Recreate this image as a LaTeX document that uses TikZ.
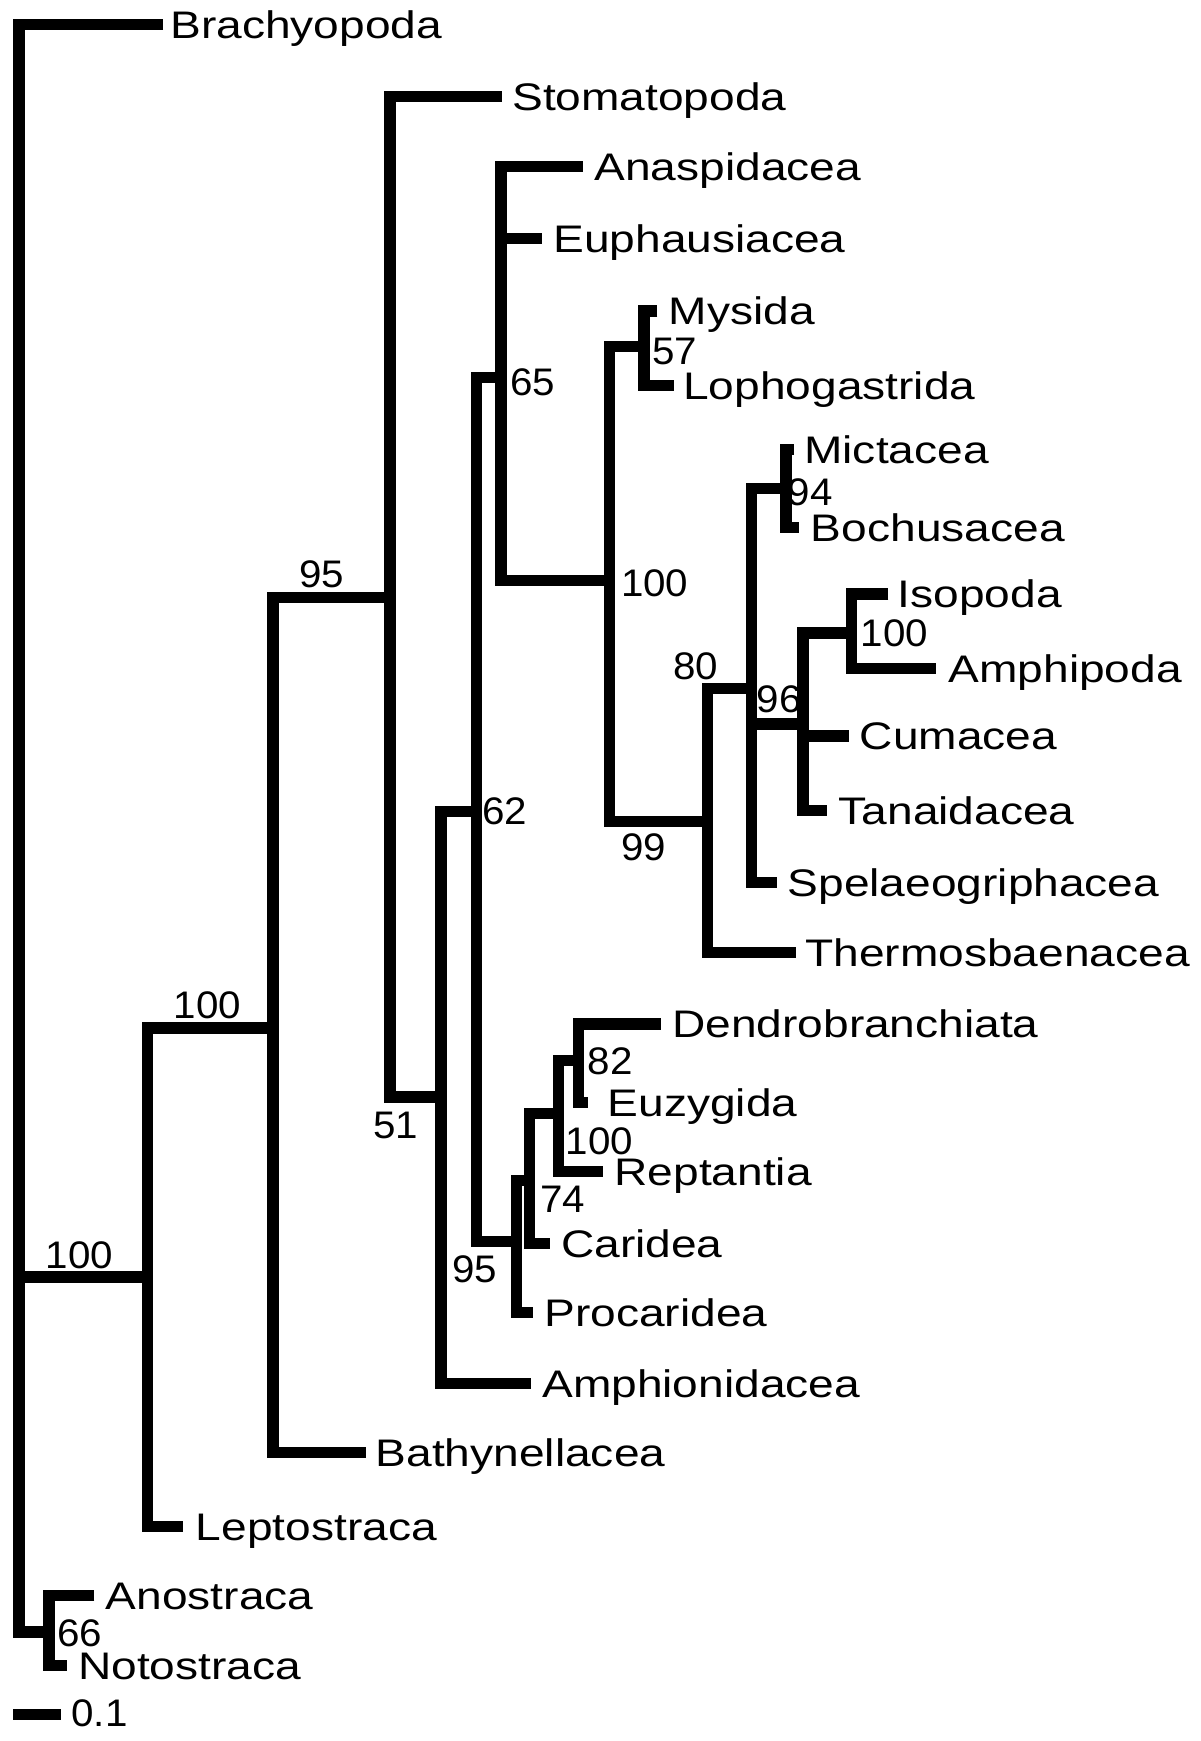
\documentclass[tikz,border=0pt]{standalone}
\usepackage{fontspec}
\setmainfont{Liberation Sans}
\newfontfamily\namefont[FakeStretch=1.2]{Liberation Sans}
\newfontfamily\numfont[FakeStretch=1.05]{Liberation Sans}
\begin{document}
\begin{tikzpicture}[x=0.5pt,y=-0.5pt,
  br/.style={line width=5.2pt, line join=miter, line cap=butt},
  leaf/.style={anchor=base west, inner sep=0pt, font=\namefont\fontsize{17.3pt}{17.3pt}\selectfont},
  boot/.style={anchor=base west, inner sep=0pt, font=\numfont\fontsize{17.3pt}{17.3pt}\selectfont}]
\useasboundingbox (0,0) rectangle (1081,1568);
% internal nodes
\coordinate (R0) at (17,1150);
\coordinate (B) at (133,1150);
\coordinate (C) at (246,926);
\coordinate (D) at (351,538);
\coordinate (E) at (397,988);
\coordinate (F) at (429,731);
\coordinate (G) at (451,340);
\coordinate (I) at (549,523);
\coordinate (J) at (580,312);
\coordinate (K) at (637,740);
\coordinate (L) at (677,620);
\coordinate (M) at (708,440);
\coordinate (N) at (723,652);
\coordinate (O) at (767,570);
\coordinate (H) at (465,1118);
\coordinate (P) at (477,1063);
\coordinate (Q) at (503,1003);
\coordinate (R) at (521,955);
\coordinate (S) at (44,1470);
% tips
\coordinate (tBrachy) at (147,22);
\coordinate (tStom) at (452,87);
\coordinate (tAnasp) at (525,150);
\coordinate (tEuph) at (488,215);
\coordinate (tMys) at (592,280);
\coordinate (tLoph) at (607,347);
\coordinate (tMict) at (715,405);
\coordinate (tBoch) at (720,475);
\coordinate (tIso) at (800,535);
\coordinate (tAmphip) at (843,602);
\coordinate (tCum) at (765,663);
\coordinate (tTan) at (745,730);
\coordinate (tSpel) at (700,795);
\coordinate (tTherm) at (717,858);
\coordinate (tDend) at (595,922);
\coordinate (tEuzy) at (530,993);
\coordinate (tRept) at (543,1055);
\coordinate (tCar) at (495,1120);
\coordinate (tProc) at (480,1182);
\coordinate (tAmphion) at (478,1246);
\coordinate (tBath) at (330,1308);
\coordinate (tLept) at (165,1375);
\coordinate (tAnos) at (85,1437);
\coordinate (tNoto) at (60,1500);
% branches
\draw[br] (tBrachy) -| (R0) |- (S);
\draw[br] (R0) -- (B);
\draw[br] (C) -| (B) |- (tLept);
\draw[br] (D) -| (C) |- (tBath);
\draw[br] (tStom) -| (D) |- (E);
\draw[br] (F) -| (E) |- (tAmphion);
\draw[br] (G) -| (F) |- (H);
\draw[br] (tAnasp) -| (G) |- (I);
\draw[br] (G |- tEuph) -- (tEuph);
\draw[br] (J) -| (I) |- (K);
\draw[br] (tMys) -| (J) |- (tLoph);
\draw[br] (L) -| (K) |- (tTherm);
\draw[br] (M) -| (L) |- (tSpel);
\draw[br] (L |- N) -- (N);
\draw[br] (tMict) -| (M) |- (tBoch);
\draw[br] (O) -| (N) |- (tTan);
\draw[br] (N |- tCum) -- (tCum);
\draw[br] (tIso) -| (O) |- (tAmphip);
\draw[br] (P) -| (H) |- (tProc);
\draw[br] (Q) -| (P) |- (tCar);
\draw[br] (R) -| (Q) |- (tRept);
\draw[br] (tDend) -| (R) |- (tEuzy);
\draw[br] (tAnos) -| (S) |- (tNoto);
% leaf labels
\node[leaf] (lBrachy) at (153,34.4) {Brachyopoda};
\node[leaf] (lStom) at (461,99.4) {Stomatopoda};
\node[leaf] (lAnasp) at (535,162.4) {Anaspidacea};
\node[leaf] (lEuph) at (498,227.4) {Euphausiacea};
\node[leaf] (lMys) at (602,292.4) {Mysida};
\node[leaf] (lLoph) at (615,359.4) {Lophogastrida};
\node[leaf] (lMict) at (724,417.4) {Mictacea};
\node[leaf] (lBoch) at (730,487.4) {Bochusacea};
\node[leaf] (lIso) at (808,547.4) {Isopoda};
\node[leaf] (lAmphip) at (854,614.4) {Amphipoda};
\node[leaf] (lCum) at (774,675.4) {Cumacea};
\node[leaf] (lTan) at (755,742.4) {Tanaidacea};
\node[leaf] (lSpel) at (709,807.4) {Spelaeogriphacea};
\node[leaf] (lTherm) at (725,870.4) {Thermosbaenacea};
\node[leaf] (lDend) at (605,934.4) {Dendrobranchiata};
\node[leaf] (lEuzy) at (547,1005.4) {Euzygida};
\node[leaf] (lRept) at (553,1067.4) {Reptantia};
\node[leaf] (lCar) at (505,1132.4) {Caridea};
\node[leaf] (lProc) at (490,1194.4) {Procaridea};
\node[leaf] (lAmphion) at (488,1258.4) {Amphionidacea};
\node[leaf] (lBath) at (338,1320.4) {Bathynellacea};
\node[leaf] (lLept) at (176,1387.4) {Leptostraca};
\node[leaf] (lAnos) at (95,1449.4) {Anostraca};
\node[leaf] (lNoto) at (70,1512.4) {Notostraca};
% support values
\node[boot] (bR0) at (41,1142) {100};
\node[boot] (bB) at (156,917) {100};
\node[boot] (bC) at (269,529) {95};
\node[boot] (bD) at (336,1025) {51};
\node[boot] (bE) at (434,743) {62};
\node[boot] (bG) at (459,356) {65};
\node[boot] (bI) at (559,537) {100};
\node[boot] (bJ) at (587,328) {57};
\node[boot] (bK) at (559,775) {99};
\node[boot] (bL80) at (606,612) {80};
\node[boot] (bM) at (709,455) {94};
\node[boot] (bL96) at (681,642) {96};
\node[boot] (bO) at (775,582) {100};
\node[boot] (bR) at (529,968) {82};
\node[boot] (bQ) at (509,1040) {100};
\node[boot] (bP) at (486,1092) {74};
\node[boot] (bH) at (407,1155) {95};
\node[boot] (bS) at (51,1483) {66};
% scale bar
\coordinate (sb1) at (12,1544);
\coordinate (sb2) at (55,1544);
\draw[br] (sb1) -- (sb2);
\node[boot] (lScale) at (64,1555) {0.1};
\end{tikzpicture}
\end{document}
